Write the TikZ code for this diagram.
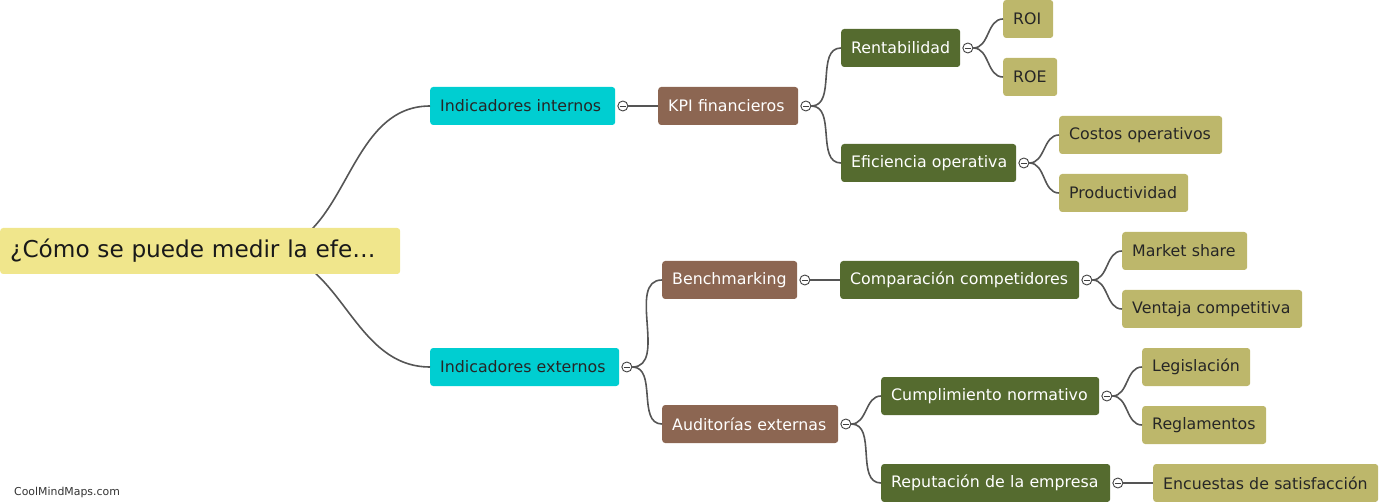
\documentclass[tikz,border=0pt]{standalone}
\usepackage{fontspec}
\setmainfont{DejaVu Sans}
\usepackage{xcolor}
\usetikzlibrary{positioning}

\definecolor{rootcol}{HTML}{F0E68C}
\definecolor{cyancol}{HTML}{00CED1}
\definecolor{browncol}{HTML}{8C6652}
\definecolor{olivecol}{HTML}{556B2F}
\definecolor{leafcol}{HTML}{BDB76B}
\definecolor{linecol}{HTML}{555555}

\tikzset{
  box/.style={anchor=west, rounded corners=3pt, minimum height=38pt, inner xsep=8pt,
    font=\fontsize{15.8}{19}\selectfont},
  wd/.style={minimum width=#1, text width=#1-16pt, align=left},
  lvlone/.style={box, fill=cyancol, text=black!85},
  lvltwo/.style={box, fill=browncol, text=white},
  lvlthree/.style={box, fill=olivecol, text=white},
  leaf/.style={box, fill=leafcol, text=black!85},
  fold/.style={circle, draw=black!75, fill=white, line width=0.9pt, minimum size=10pt, inner sep=0pt,
    path picture={\draw[black!75, line width=0.9pt] ([xshift=2pt]path picture bounding box.west)
      -- ([xshift=-2pt]path picture bounding box.east);}},
  link/.style={draw=linecol, line width=1.6pt}
}

\begin{document}
\begin{tikzpicture}[x=1pt, y=-1pt]
\useasboundingbox (0,0) rectangle (1391,502);

% first level
\node[lvlone, wd=185pt] (ii) at (430,106) {\hspace{2pt}Indicadores internos};
\node[lvlone, wd=189pt] (ie) at (430,367) {\hspace{2pt}Indicadores externos};
% second level
\node[lvltwo, wd=140pt] (kpi) at (658,106) {\hspace{2pt}KPI financieros};
\node[lvltwo, wd=135pt] (bench) at (662,280) {\hspace{2pt}Benchmarking};
\node[lvltwo, wd=176pt] (aud) at (662,424) {\hspace{2pt}Auditorías externas};
% third level
\node[lvlthree, wd=119pt] (rent) at (841,48) {\hspace{2pt}Rentabilidad};
\node[lvlthree, wd=175pt] (efic) at (841,163) {\hspace{2pt}Eficiencia operativa};
\node[lvlthree, wd=239pt] (comp) at (840,280) {\hspace{2pt}Comparación competidores};
\node[lvlthree, wd=218pt] (cumpl) at (881,396) {\hspace{2pt}Cumplimiento normativo};
\node[lvlthree, wd=229pt] (reput) at (881,483) {\hspace{2pt}Reputación de la empresa};
% leaves
\foreach \n/\x/\y/\w/\t in {roi/1003/19/50/ROI, roe/1003/77/54/ROE,
    costos/1059/135/163/Costos operativos, prod/1059/193/129/Productividad,
    market/1122/251/125/Market share, ventaja/1122/309/180/Ventaja competitiva,
    legis/1142/367/108/Legislación, regl/1142/425/124/Reglamentos,
    encu/1153/483/225/Encuestas de satisfacción} {
  \node[leaf, wd=\w pt] (\n) at (\x,\y) {\hspace{2pt}\t};
}

% fold markers
\foreach \p in {ii, ie, kpi, bench, aud, rent, efic, comp, cumpl, reput} {
  \node[fold, right=2pt of \p] (f\p) {};
}

% connectors
\foreach \a/\b in {fii/kpi, fie/bench, fie/aud, fkpi/rent, fkpi/efic, fbench/comp,
    faud/cumpl, faud/reput, frent/roi, frent/roe, fefic/costos, fefic/prod,
    fcomp/market, fcomp/ventaja, fcumpl/legis, fcumpl/regl, freput/encu} {
  \draw[link] (\a.east) to[out=0, in=180] (\b.west);
}

\coordinate (rc) at (262,251);
\draw[link] (rc) to[out=0, in=180] (ii.west);
\draw[link] (rc) to[out=0, in=180] (ie.west);

% root on top
\node[box, wd=400pt, fill=rootcol, text=black!90, minimum height=46pt,
  font=\fontsize{23.2}{28}\selectfont] (root) at (0,251) {\hspace{2pt}¿Cómo se puede medir la efe…};

\node[anchor=west, inner sep=0pt, text=black!80, font=\fontsize{10.9}{12}\selectfont] (wm) at (14,492) {CoolMindMaps.com};
\end{tikzpicture}
\end{document}
